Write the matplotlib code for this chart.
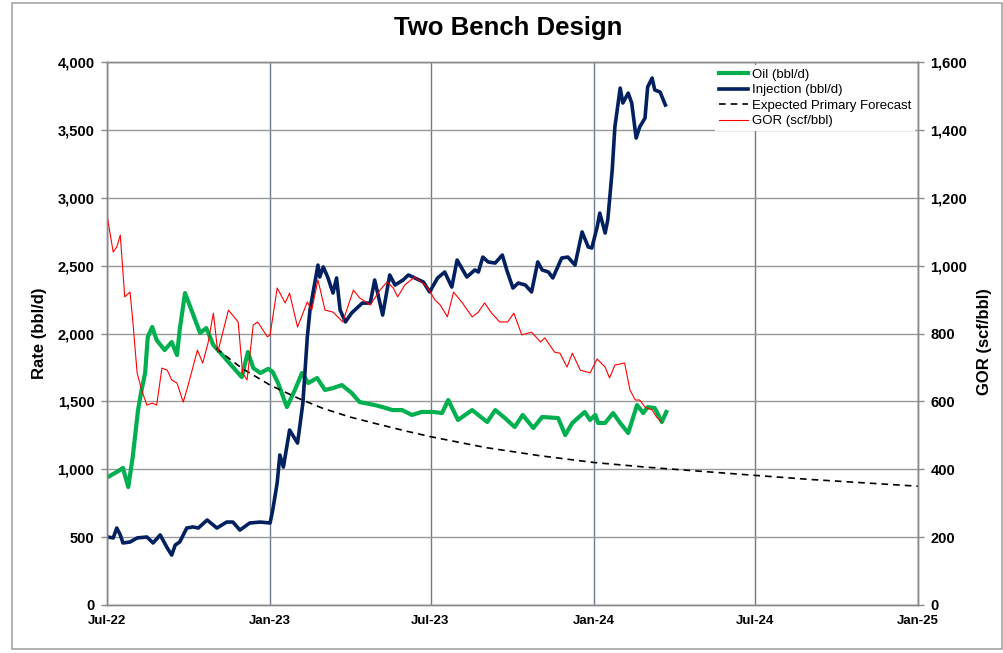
"""Two Bench Design: oil, injection, forecast and GOR over time."""

import matplotlib.pyplot as plt
import matplotlib.dates as mdates
from matplotlib.patches import Rectangle
from matplotlib.ticker import FuncFormatter
import pandas as pd

plt.rcParams["font.family"] = ["Liberation Sans", "DejaVu Sans"]

START = pd.Timestamp("2022-07-01")

# days after START
oil_day = [1, 11, 18, 24, 29, 35, 39, 43, 46, 51, 56, 65, 73, 79, 82, 88, 94,
           105, 112, 120, 127, 142, 152, 159, 165, 173, 182, 187, 193, 203,
           212, 220, 227, 237, 246, 255, 265, 276, 285, 302, 311, 322, 333,
           344, 355, 368, 378, 385, 396, 412, 429, 438, 449, 460, 469, 481,
           491, 509, 517, 525, 539, 545, 551, 554, 562, 571, 579, 588, 598,
           605, 610, 618, 626, 631]
oil_rate = [943, 980, 1009, 869, 1090, 1436, 1584, 1709, 1974, 2048, 1952,
            1878, 1937, 1841, 2026, 2298, 2195, 2004, 2040, 1915, 1864, 1753,
            1679, 1864, 1746, 1709, 1740, 1716, 1635, 1458, 1584, 1709, 1635,
            1672, 1584, 1598, 1620, 1562, 1495, 1473, 1458, 1436, 1436, 1400,
            1422, 1422, 1414, 1510, 1363, 1436, 1348, 1436, 1377, 1311, 1400,
            1304, 1385, 1377, 1252, 1341, 1422, 1363, 1400, 1341, 1341, 1414,
            1341, 1267, 1473, 1414, 1458, 1451, 1348, 1422]

inj_day = [1, 7, 11, 15, 18, 26, 34, 45, 52, 60, 68, 73, 77, 82, 90, 97, 103,
           113, 124, 135, 142, 150, 161, 173, 184, 187, 192, 195, 199, 206,
           215, 221, 226, 229, 235, 238, 240, 244, 249, 255, 259, 263, 269,
           276, 288, 297, 302, 311, 319, 325, 334, 340, 345, 357, 364, 373,
           381, 389, 395, 406, 415, 419, 424, 430, 438, 446, 451, 458, 464,
           472, 479, 486, 491, 498, 503, 513, 520, 528, 536, 543, 547, 553,
           556, 562, 565, 570, 573, 579, 582, 588, 592, 597, 601, 607, 610,
           615, 618, 624, 630]
inj_rate = [501, 494, 567, 516, 457, 464, 494, 501, 457, 516, 420, 368, 442,
            464, 567, 575, 567, 626, 567, 611, 611, 552, 604, 611, 604, 700,
            899, 1105, 1016, 1289, 1193, 1488, 1974, 2173, 2394, 2504, 2416,
            2490, 2416, 2298, 2409, 2173, 2085, 2151, 2224, 2224, 2394, 2136,
            2431, 2357, 2394, 2431, 2416, 2379, 2306, 2409, 2453, 2342, 2541,
            2416, 2468, 2453, 2563, 2527, 2519, 2578, 2468, 2335, 2372, 2357,
            2306, 2527, 2468, 2453, 2409, 2556, 2563, 2504, 2748, 2637, 2630,
            2784, 2887, 2740, 2836, 3204, 3521, 3808, 3698, 3771, 3698, 3440,
            3521, 3587, 3816, 3882, 3794, 3779, 3683]

gor_day = [0, 7, 11, 15, 20, 26, 29, 34, 39, 45, 51, 56, 62, 68, 73, 79, 86,
           91, 102, 108, 114, 120, 125, 137, 148, 153, 158, 165, 170, 181,
           184, 192, 201, 206, 215, 226, 231, 238, 246, 255, 266, 278, 285,
           297, 308, 316, 323, 328, 336, 347, 359, 364, 370, 376, 384, 391,
           401, 412, 419, 426, 434, 443, 452, 459, 468, 479, 489, 494, 505,
           511, 519, 525, 534, 545, 553, 562, 567, 573, 584, 590, 596, 601,
           607, 615, 620, 626]
gor = [1149, 1040, 1055, 1090, 908, 922, 840, 684, 634, 589, 595, 589, 698,
       692, 663, 654, 598, 642, 751, 713, 772, 860, 745, 869, 834, 684, 663,
       825, 834, 790, 796, 934, 890, 919, 819, 893, 869, 958, 869, 863, 834,
       928, 905, 884, 928, 952, 934, 908, 943, 966, 943, 925, 899, 884, 849,
       922, 890, 849, 863, 890, 860, 834, 834, 860, 796, 804, 775, 787, 745,
       742, 701, 742, 692, 684, 725, 701, 669, 707, 713, 634, 604, 604, 583,
       575, 554, 539]

forecast_date = ["2022-11-01", "2022-12-01", "2023-01-01", "2023-02-01",
                 "2023-03-01", "2023-04-01", "2023-05-01", "2023-06-01",
                 "2023-07-01", "2023-09-01", "2023-11-01", "2024-01-01",
                 "2024-03-01", "2024-05-01", "2024-07-01", "2024-09-01",
                 "2024-11-01", "2025-01-01"]
forecast_rate = [1890, 1740, 1620, 1525, 1450, 1385, 1335, 1285, 1240, 1160,
                 1100, 1050, 1015, 985, 955, 925, 900, 875]

tick_dates = ["2022-07-01", "2023-01-01", "2023-07-01", "2024-01-01",
              "2024-07-01", "2025-01-01"]


def to_dates(days):
    return START + pd.to_timedelta(days, unit="D")


figure = plt.figure(figsize=(10.04, 6.53), dpi=100)
axis = figure.add_axes([107 / 1004, 48 / 653, 811 / 1004, 543 / 653])
gor_axis = axis.twinx()

axis.plot(to_dates(oil_day), oil_rate, color="#00B050", lw=3.0,
          label="Oil (bbl/d)", solid_joinstyle="round")
axis.plot(to_dates(inj_day), inj_rate, color="#002060", lw=2.6,
          label="Injection (bbl/d)", solid_joinstyle="round")
axis.plot(pd.to_datetime(forecast_date), forecast_rate, color="black",
          lw=1.2, ls=(0, (4, 3)), label="Expected Primary Forecast")
gor_axis.plot(to_dates(gor_day), gor, color="#FF0000", lw=0.8,
              label="GOR (scf/bbl)")

ticks = pd.to_datetime(tick_dates)
axis.set_xlim(ticks[0], ticks[-1])
axis.set_xticks(ticks)
axis.xaxis.set_major_formatter(mdates.DateFormatter("%b-%y"))
axis.set_ylim(0, 4000)
axis.set_yticks(range(0, 4001, 500))
gor_axis.set_ylim(0, 1600)
gor_axis.set_yticks(range(0, 1601, 200))

comma = FuncFormatter(lambda v, _: f"{v:,.0f}")
axis.yaxis.set_major_formatter(comma)
gor_axis.yaxis.set_major_formatter(comma)

axis.grid(axis="y", color="#999999", lw=1.0)
axis.grid(axis="x", color="#6f7a8c", lw=1.0)
axis.set_axisbelow(True)

for ax in (axis, gor_axis):
    for spine in ax.spines.values():
        spine.set_color("#8a8a8a")
        spine.set_linewidth(1.0)
    ax.tick_params(axis="y", length=4, width=1.0, color="#8a8a8a", pad=5,
                   labelsize=10.5)
    for label in ax.get_yticklabels():
        label.set_fontweight("bold")
axis.tick_params(axis="x", length=0, pad=7, labelsize=9.5)
for label in axis.get_xticklabels():
    label.set_fontweight("bold")

handles = axis.get_lines() + gor_axis.get_lines()
legend = gor_axis.legend(handles=handles, loc="upper right",
                         bbox_to_anchor=(1.0, 1.0), fontsize=9.5,
                         frameon=True, framealpha=1.0, edgecolor="none",
                         fancybox=False, borderaxespad=0.2, borderpad=0.3,
                         labelspacing=0.25, handlelength=2.2,
                         handletextpad=0.3)

figure.text(0.506, 1 - 28 / 653, "Two Bench Design", ha="center",
            va="center", fontsize=18.5, fontweight="bold")
figure.text(40 / 1004, 1 - 333 / 653, "Rate (bbl/d)", rotation=90,
            ha="center", va="center", fontsize=12, fontweight="bold")
figure.text(985 / 1004, 1 - 342 / 653, "GOR (scf/bbl)", rotation=90,
            ha="center", va="center", fontsize=12, fontweight="bold")

figure.patches.append(Rectangle((12 / 1004, 4 / 653), 990 / 1004,
                                646 / 653, transform=figure.transFigure,
                                fill=False, edgecolor="#a6a6a6", lw=1.2))

figure.savefig("out.png", dpi=100)
